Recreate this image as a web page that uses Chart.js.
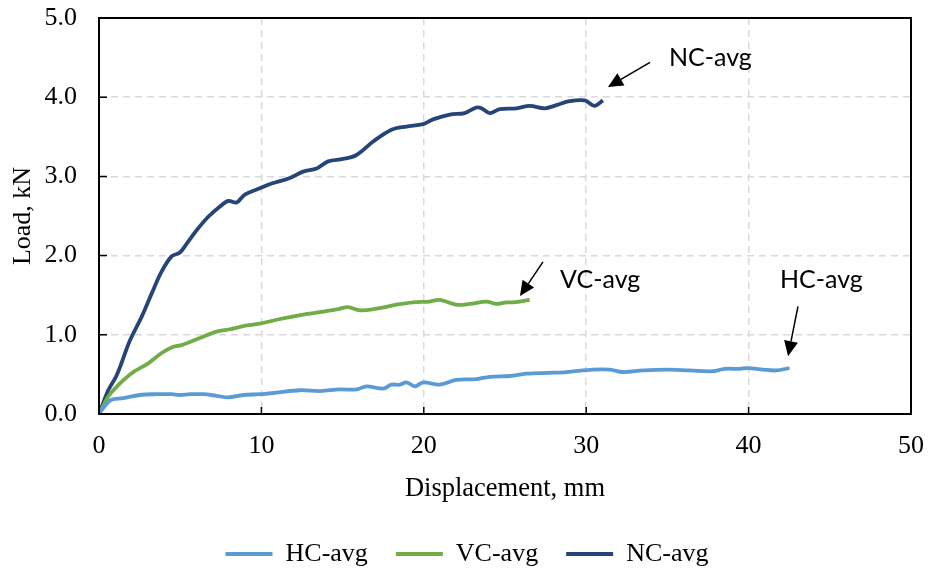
<!DOCTYPE html>
<html>
<head>
<meta charset="utf-8">
<script src="https://cdn.jsdelivr.net/npm/chart.js@4.4.0/dist/chart.umd.min.js"></script>
<style>
  html, body { margin: 0; padding: 0; background: #ffffff; }
  #wrap { width: 930px; height: 573px; }
</style>
</head>
<body>
<div id="wrap"><canvas id="c" width="930" height="573"></canvas></div>
<script>
// ---- data ----
const seriesNames = ['HC-avg', 'VC-avg', 'NC-avg'];

const hcX = [0, 0.68, 1.5, 2.52, 3.55, 4.47, 4.98, 5.6, 6.42, 7.24, 7.96, 8.88, 9.91, 10.94, 12.37, 13.6, 14.83, 15.86, 16.47, 17.5, 18.01, 18.52, 18.93, 19.45, 19.96, 20.98, 22.0, 23.24, 24.06, 25.29, 26.32, 27.75, 28.78, 30.42, 31.45, 32.27, 33.5, 34.94, 36.37, 37.8, 38.52, 39.45, 39.96, 40.88, 41.7, 42.52];
const hcY = [0, 0.17, 0.20, 0.24, 0.25, 0.25, 0.24, 0.25, 0.25, 0.23, 0.21, 0.24, 0.25, 0.27, 0.30, 0.29, 0.31, 0.31, 0.35, 0.32, 0.37, 0.37, 0.40, 0.35, 0.40, 0.37, 0.43, 0.44, 0.47, 0.48, 0.51, 0.52, 0.53, 0.56, 0.56, 0.53, 0.55, 0.56, 0.55, 0.54, 0.57, 0.57, 0.58, 0.56, 0.55, 0.58];

const vcX = [0, 0.68, 1.91, 3.03, 3.86, 4.57, 5.09, 6.22, 7.24, 8.06, 8.88, 9.91, 10.94, 12.17, 13.4, 14.63, 15.34, 16.06, 17.09, 18.32, 19.34, 20.37, 20.98, 22.0, 22.83, 23.86, 24.47, 25.09, 25.5, 26.52];
const vcY = [0, 0.25, 0.50, 0.64, 0.77, 0.85, 0.87, 0.96, 1.04, 1.07, 1.11, 1.14, 1.19, 1.24, 1.28, 1.32, 1.35, 1.31, 1.33, 1.38, 1.41, 1.42, 1.44, 1.38, 1.39, 1.42, 1.39, 1.41, 1.41, 1.44];

const ncX = [0, 0.57, 1.09, 1.91, 2.63, 3.24, 3.86, 4.47, 4.98, 5.4, 6.01, 6.73, 7.45, 7.96, 8.47, 8.98, 9.91, 10.63, 11.75, 12.57, 13.4, 14.11, 15.03, 15.86, 16.88, 18.01, 18.93, 19.96, 20.57, 21.6, 22.52, 23.24, 23.55, 24.06, 24.68, 25.7, 26.52, 27.45, 28.17, 28.98, 29.91, 30.52, 31.03];
const ncY = [0, 0.30, 0.49, 0.93, 1.23, 1.52, 1.80, 1.99, 2.04, 2.15, 2.32, 2.49, 2.62, 2.69, 2.67, 2.77, 2.85, 2.91, 2.98, 3.06, 3.10, 3.19, 3.22, 3.27, 3.44, 3.59, 3.63, 3.66, 3.72, 3.78, 3.80, 3.87, 3.86, 3.80, 3.85, 3.86, 3.89, 3.86, 3.90, 3.95, 3.96, 3.89, 3.96];

const xTicks = [0, 10, 20, 30, 40, 50];
const yTicks = [0, 1, 2, 3, 4, 5];

// annotation labels (text, label anchor in data units, arrow tail, arrow tip in data units)
const annoText = ['NC-avg', 'VC-avg', 'HC-avg'];
const annoLabelAt = [[35.1, 4.49], [28.39, 1.69], [41.93, 1.69]];
const annoTail = [[33.93, 4.44], [27.34, 1.92], [43.04, 1.36]];
const annoTip = [[31.34, 4.13], [25.92, 1.49], [42.43, 0.73]];

const colors = ['#5B9BD5', '#70AD47', '#264478'];

const zip = (xs, ys) => xs.map((x, i) => ({ x: x, y: ys[i] }));
const seriesData = [zip(hcX, hcY), zip(vcX, vcY), zip(ncX, ncY)];

const serif = "'Liberation Serif', 'Times New Roman', serif";

const framePlugin = {
  id: 'frame',
  afterLayout(chart) {
    if (chart.legend) { chart.legend.left = 4; chart.legend.right = 930; }
  },
  afterDatasetsDraw(chart) {
    const { ctx, chartArea: a, scales } = chart;
    ctx.save();
    // inward tick marks
    ctx.strokeStyle = '#000';
    ctx.lineWidth = 1.5;
    ctx.beginPath();
    xTicks.forEach(v => {
      const px = scales.x.getPixelForValue(v);
      ctx.moveTo(px, a.bottom);
      ctx.lineTo(px, a.bottom - 7);
    });
    yTicks.forEach(v => {
      const py = scales.y.getPixelForValue(v);
      ctx.moveTo(a.left, py);
      ctx.lineTo(a.left + 8, py);
    });
    ctx.stroke();
    // frame
    ctx.lineWidth = 2;
    ctx.strokeRect(a.left, a.top, a.right - a.left, a.bottom - a.top);
    // annotations
    ctx.fillStyle = '#000';
    ctx.font = "25px Lato, 'Open Sans', sans-serif";
    ctx.textAlign = 'left';
    ctx.textBaseline = 'middle';
    annoText.forEach((t, i) => {
      const lx = scales.x.getPixelForValue(annoLabelAt[i][0]);
      const ly = scales.y.getPixelForValue(annoLabelAt[i][1]);
      ctx.fillText(t, lx, ly);
      const tx = scales.x.getPixelForValue(annoTail[i][0]);
      const ty = scales.y.getPixelForValue(annoTail[i][1]);
      const hx = scales.x.getPixelForValue(annoTip[i][0]);
      const hy = scales.y.getPixelForValue(annoTip[i][1]);
      const ang = Math.atan2(hy - ty, hx - tx);
      const len = 15, hw = 7;
      const bx = hx - len * Math.cos(ang), by = hy - len * Math.sin(ang);
      ctx.lineWidth = 1.5;
      ctx.beginPath();
      ctx.moveTo(tx, ty);
      ctx.lineTo(bx, by);
      ctx.stroke();
      ctx.beginPath();
      ctx.moveTo(hx, hy);
      ctx.lineTo(bx + hw * Math.sin(ang), by - hw * Math.cos(ang));
      ctx.lineTo(bx - hw * Math.sin(ang), by + hw * Math.cos(ang));
      ctx.closePath();
      ctx.fill();
    });
    ctx.restore();
  }
};

new Chart(document.getElementById('c'), {
  type: 'line',
  data: {
    datasets: seriesNames.map((n, i) => ({
      label: n,
      data: seriesData[i],
      borderColor: colors[i],
      backgroundColor: colors[i],
      borderWidth: 3.8,
      pointRadius: 0,
      tension: 0.35,
      fill: false
    }))
  },
  options: {
    responsive: false,
    animation: false,
    devicePixelRatio: 1,
    layout: { padding: { left: 0, right: 19, top: 18, bottom: 0 } },
    scales: {
      x: {
        type: 'linear',
        min: 0, max: 50,
        afterBuildTicks: s => { s.ticks = xTicks.map(v => ({ value: v })); },
        afterFit: s => { s.height = 99; s.paddingLeft = 0; s.paddingRight = 0; },
        grid: { color: '#D9D9D9', lineWidth: 1.5, drawTicks: false },
        border: { display: false, dash: [7, 5] },
        ticks: { color: '#000', padding: 17, font: { family: serif, size: 26 }, maxRotation: 0 },
        title: { display: true, text: 'Displacement, mm', color: '#000', font: { family: serif, size: 26.5 }, padding: { top: 0, bottom: 8 } }
      },
      y: {
        type: 'linear',
        min: 0, max: 5,
        afterBuildTicks: s => { s.ticks = yTicks.map(v => ({ value: v })); },
        afterFit: s => { s.width = 99; s.paddingTop = 0; s.paddingBottom = 0; },
        grid: { color: '#D9D9D9', lineWidth: 1.5, drawTicks: false },
        border: { display: false, dash: [7, 5] },
        ticks: { color: '#000', padding: 22, font: { family: serif, size: 26 }, callback: v => Number(v).toFixed(1) },
        title: { display: true, text: 'Load, kN', color: '#000', font: { family: serif, size: 26 }, padding: { top: 8, bottom: 0 } }
      }
    },
    plugins: {
      legend: {
        position: 'bottom',
        maxHeight: 60,
        labels: {
          color: '#000',
          font: { family: serif, size: 26 },
          boxWidth: 47,
          boxHeight: 4,
          padding: 28,
          generateLabels: chart => chart.data.datasets.map((d, i) => ({
            text: d.label,
            fillStyle: d.borderColor,
            strokeStyle: d.borderColor,
            lineWidth: 0,
            fontColor: '#000',
            datasetIndex: i,
            hidden: false
          }))
        }
      },
      tooltip: { enabled: false }
    }
  },
  plugins: [framePlugin]
});
</script>
</body>
</html>
